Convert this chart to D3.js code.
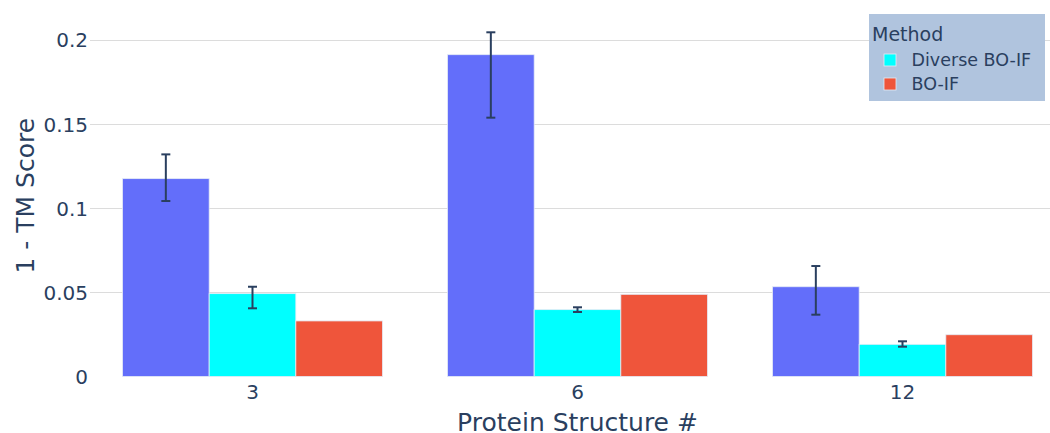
<!DOCTYPE html>
<html>
<head>
<meta charset="utf-8">
<script src="https://cdn.jsdelivr.net/npm/d3@7/dist/d3.min.js"></script>
<style>
  html, body { margin: 0; padding: 0; background: #fff; overflow: hidden; }
  svg { display: block; font-family: "DejaVu Sans", Verdana, sans-serif; }
</style>
</head>
<body>
<svg id="chart" width="1050" height="433"></svg>
<script>
// ---- Data ----
const categories = ["3", "6", "12"];
const seriesNames = ["Baseline", "Diverse BO-IF", "BO-IF"];
const seriesColors = ["#636efa", "#00ffff", "#ef553b"];
const showInLegend = [false, true, true];
const baselineValues = [0.1175, 0.1911, 0.0533];
const baselineErrPlus = [0.0144, 0.0133, 0.0123];
const baselineErrMinus = [0.0133, 0.0374, 0.0166];
const diverseValues = [0.0492, 0.0397, 0.0191];
const diverseErrPlus = [0.0041, 0.0014, 0.0018];
const diverseErrMinus = [0.0087, 0.0014, 0.0014];
const boifValues = [0.0330, 0.0488, 0.0248];
const yTickValues = [0, 0.05, 0.1, 0.15, 0.2];
const yTickLabels = ["0", "0.05", "0.1", "0.15", "0.2"];
const xTitle = "Protein Structure #";
const yTitle = "1 - TM Score";
const legendTitle = "Method";

const series = [
  { values: baselineValues, plus: baselineErrPlus, minus: baselineErrMinus },
  { values: diverseValues, plus: diverseErrPlus, minus: diverseErrMinus },
  { values: boifValues, plus: null, minus: null }
].map((s, i) => ({ ...s, name: seriesNames[i], color: seriesColors[i], legend: showInLegend[i] }));

// ---- Layout ----
const plotLeft = 90, plotRight = 1065, plotTop = 15, plotBottom = 376.5;
const yMax = 0.21467;
const textColor = "#2a3f5f";

const svg = d3.select("#chart");

const x0 = d3.scaleBand().domain(categories).range([plotLeft, plotRight]).paddingInner(0).paddingOuter(0);
const groupPad = 0.2 * x0.bandwidth() / 2;
const x1 = d3.scaleBand().domain(d3.range(series.length)).range([groupPad, x0.bandwidth() - groupPad]);
const y = d3.scaleLinear().domain([0, yMax]).range([plotBottom, plotTop]);

// gridlines
const yAxis = d3.axisLeft(y).tickValues(yTickValues).tickFormat((d, i) => yTickLabels[i]).tickSize(0).tickPadding(0);
const gGrid = svg.append("g");
gGrid.selectAll("line").data(yTickValues.filter(v => v > 0)).join("line")
  .attr("x1", plotLeft).attr("x2", plotRight)
  .attr("y1", d => Math.round(y(d)) + 0.5).attr("y2", d => Math.round(y(d)) + 0.5)
  .attr("stroke", "#dcdcdc").attr("stroke-width", 1);

// y axis labels
const gy = svg.append("g").attr("transform", `translate(${plotLeft - 2},0)`).call(yAxis);
gy.select(".domain").remove();
gy.selectAll("text").attr("fill", textColor).attr("font-size", 20)
  .attr("font-family", "DejaVu Sans, Verdana, sans-serif").attr("dy", "0.36em");

// x axis labels
const xAxis = d3.axisBottom(x0).tickSize(0).tickPadding(0);
const gx = svg.append("g").attr("transform", `translate(0,${plotBottom})`).call(xAxis);
gx.select(".domain").remove();
gx.selectAll("text").attr("fill", textColor).attr("font-size", 20)
  .attr("font-family", "DejaVu Sans, Verdana, sans-serif").attr("dy", null).attr("y", 22.5);

// bars
const gBars = svg.append("g");
series.forEach((s, si) => {
  gBars.append("g").selectAll("rect").data(s.values).join("rect")
    .attr("x", (d, i) => x0(categories[i]) + x1(si))
    .attr("width", x1.bandwidth())
    .attr("y", d => y(d))
    .attr("height", d => y(0) - y(d))
    .attr("fill", s.color)
    .attr("stroke", "#e5ecf6").attr("stroke-width", 0.8);
});

// error bars
const gErr = svg.append("g").attr("stroke", textColor).attr("stroke-width", 2).attr("fill", "none");
series.forEach((s, si) => {
  if (!s.plus) return;
  s.values.forEach((v, i) => {
    const cx = x0(categories[i]) + x1(si) + x1.bandwidth() / 2;
    const yt = y(v + s.plus[i]), yb = y(v - s.minus[i]);
    gErr.append("line").attr("x1", cx).attr("x2", cx).attr("y1", yt).attr("y2", yb);
    gErr.append("line").attr("x1", cx - 4.5).attr("x2", cx + 4.5).attr("y1", yt).attr("y2", yt);
    gErr.append("line").attr("x1", cx - 4.5).attr("x2", cx + 4.5).attr("y1", yb).attr("y2", yb);
  });
});

// axis titles
svg.append("text").attr("x", (plotLeft + plotRight) / 2).attr("y", 431)
  .attr("text-anchor", "middle").attr("fill", textColor).attr("font-size", 25).text(xTitle);
svg.append("text").attr("transform", `translate(34,${(plotTop + plotBottom) / 2}) rotate(-90)`)
  .attr("text-anchor", "middle").attr("fill", textColor).attr("font-size", 25).text(yTitle);

// legend
const lg = svg.append("g").attr("transform", "translate(869,14)");
lg.append("rect").attr("width", 176).attr("height", 87).attr("fill", "#b0c4de");
lg.append("text").attr("x", 3).attr("y", 27).attr("fill", textColor).attr("font-size", 19).text(legendTitle);
const items = series.filter(s => s.legend);
const li = lg.selectAll("g.item").data(items).join("g").attr("class", "item")
  .attr("transform", (d, i) => `translate(0,${46 + i * 24})`);
li.append("rect").attr("x", 15).attr("y", -6).attr("width", 12).attr("height", 12)
  .attr("fill", d => d.color).attr("stroke", "#e5ecf6").attr("stroke-width", 0.8);
li.append("text").attr("x", 42.5).attr("y", 0).attr("dy", "0.36em").attr("fill", textColor)
  .attr("font-size", 17.5).text(d => d.name);
</script>
</body>
</html>
